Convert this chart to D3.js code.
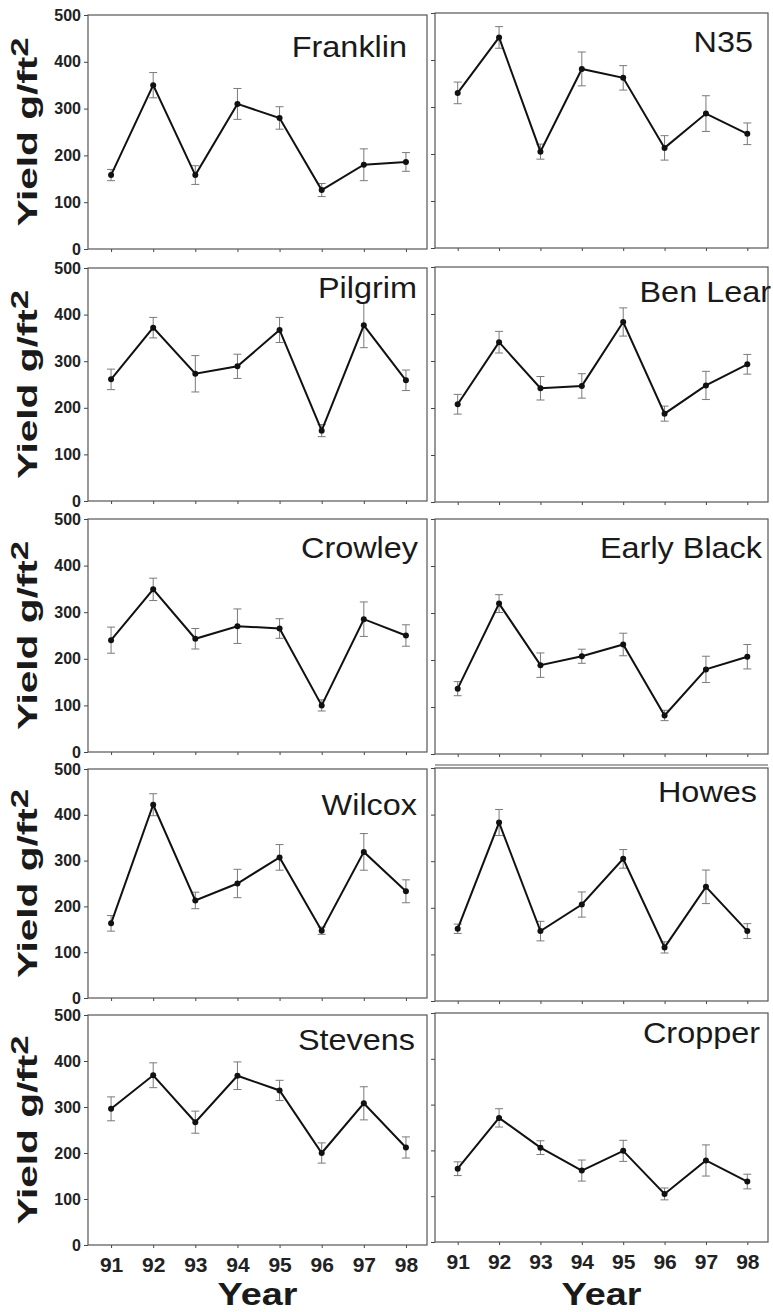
<!DOCTYPE html>
<html>
<head>
<meta charset="utf-8">
<title>Yield by variety, 1991-1998</title>
<script src="https://d3js.org/d3.v7.min.js"></script>
<style>
  body { margin: 0; background: #fff; }
  svg { display: block; font-family: "Liberation Sans", Arial, sans-serif; }
  .frame { fill: none; stroke: #555; stroke-width: 1.2px; }
  .tick line { stroke: #444; }
  .ylab text { font-size: 16px; font-weight: bold; fill: #222; }
  .xlab text { font-size: 21px; font-weight: bold; fill: #222; }
  .err { stroke: #7a7a7a; stroke-width: 1px; }
  .trend { fill: none; stroke: #111; stroke-width: 2px; }
  .dot { fill: #111; }
  .title { font-size: 30px; fill: #1a1a1a; }
  .ytitle { font-size: 28px; font-weight: bold; fill: #1a1a1a; }
  .xtitle { font-size: 31px; font-weight: bold; fill: #1a1a1a; }
</style>
</head>
<body>
<div id="chart"></div>
<script>
// data
var years = ["91", "92", "93", "94", "95", "96", "97", "98"];
var yTicks = [0, 100, 200, 300, 400, 500];
var varieties = ["Franklin", "N35", "Pilgrim", "Ben Lear", "Crowley",
                 "Early Black", "Wilcox", "Howes", "Stevens", "Cropper"];

var franklin    = [158, 350, 158, 310, 280, 126, 180, 186];
var franklinErr = [12, 27, 20, 33, 24, 14, 34, 20];
var n35         = [330, 448, 205, 381, 362, 213, 286, 243];
var n35Err      = [23, 23, 16, 36, 26, 26, 38, 23];
var pilgrim     = [261, 372, 273, 289, 367, 151, 377, 259];
var pilgrimErr  = [22, 22, 39, 26, 27, 13, 48, 22];
var benLear     = [208, 340, 242, 247, 383, 188, 248, 293];
var benLearErr  = [21, 23, 25, 26, 30, 16, 30, 21];
var crowley     = [240, 349, 243, 270, 265, 100, 285, 250];
var crowleyErr  = [28, 24, 22, 37, 21, 12, 37, 23];
var earlyBlack  = [139, 320, 189, 208, 233, 82, 180, 207];
var earlyBlackErr = [15, 19, 26, 15, 24, 11, 28, 26];
var wilcox      = [163, 422, 213, 250, 307, 147, 319, 233];
var wilcoxErr   = [17, 24, 18, 31, 28, 8, 40, 25];
var howes       = [155, 383, 150, 207, 305, 115, 245, 150];
var howesErr    = [10, 28, 21, 27, 20, 12, 36, 16];
var stevens     = [296, 369, 267, 368, 336, 200, 308, 212];
var stevensErr  = [26, 27, 24, 30, 22, 22, 36, 23];
var cropper     = [160, 271, 206, 156, 199, 105, 178, 132];
var cropperErr  = [15, 20, 15, 23, 23, 13, 34, 16];

var means = [franklin, n35, pilgrim, benLear, crowley, earlyBlack, wilcox, howes, stevens, cropper];
var errs  = [franklinErr, n35Err, pilgrimErr, benLearErr, crowleyErr, earlyBlackErr,
             wilcoxErr, howesErr, stevensErr, cropperErr];

// panel layout (pixels)
var W = 773, H = 1312;
var colX = [[88, 427], [435, 768]];
var rowsLeft  = [[15, 249], [268, 501], [519, 752], [769, 998], [1015, 1245]];
var rowsRight = [[13, 248], [267, 502], [519, 754], [768, 1001], [1013, 1242]];
var titleEnd  = [407, 753, 417, 771, 418, 762, 417, 757, 415, 760];
var titleBase = [57, 52, 298, 302, 558, 558, 815, 802, 1050, 1043];

var svg = d3.select("#chart").append("svg")
  .attr("width", W)
  .attr("height", H);

varieties.forEach(function (name, i) {
  var col = i % 2, row = Math.floor(i / 2);
  var r = col === 0 ? rowsLeft[row] : rowsRight[row];
  var x0 = colX[col][0], x1 = colX[col][1];

  var x = d3.scalePoint().domain(years).range([x0 + 2, x1]).padding(0.5);
  var y = d3.scaleLinear().domain([0, 500]).range([r[1], r[0]]);

  var g = svg.append("g");

  // y ticks
  var yAxis = d3.axisLeft(y).tickValues(yTicks).tickSize(4).tickSizeOuter(0).tickPadding(3);
  var ya = g.append("g").attr("class", "ylab")
    .attr("transform", "translate(" + x0 + ",0)")
    .call(yAxis);
  ya.select(".domain").remove();
  if (col === 1) ya.selectAll("text").remove();

  // x ticks
  var xa = g.append("g").attr("class", "xlab")
    .attr("transform", "translate(0," + r[1] + ")")
    .call(d3.axisBottom(x).tickSize(3).tickSizeOuter(0));
  xa.select(".domain").remove();
  if (row < 4) {
    xa.selectAll("text").remove();
  } else {
    xa.selectAll("text").attr("dy", null).attr("y", 27);
  }

  g.append("rect").attr("class", "frame")
    .attr("x", x0).attr("y", r[0])
    .attr("width", x1 - x0).attr("height", r[1] - r[0]);

  var pts = years.map(function (yr, k) {
    return { year: yr, v: means[i][k], e: errs[i][k] };
  });

  // error bars
  var eb = g.selectAll(".eb").data(pts).enter().append("g");
  eb.append("line").attr("class", "err")
    .attr("x1", function (d) { return x(d.year); })
    .attr("x2", function (d) { return x(d.year); })
    .attr("y1", function (d) { return y(d.v - d.e); })
    .attr("y2", function (d) { return y(d.v + d.e); });
  [-1, 1].forEach(function (s) {
    eb.append("line").attr("class", "err")
      .attr("x1", function (d) { return x(d.year) - 4; })
      .attr("x2", function (d) { return x(d.year) + 4; })
      .attr("y1", function (d) { return y(d.v + s * d.e); })
      .attr("y2", function (d) { return y(d.v + s * d.e); });
  });

  var line = d3.line()
    .x(function (d) { return x(d.year); })
    .y(function (d) { return y(d.v); });
  g.append("path").attr("class", "trend").attr("d", line(pts));

  g.selectAll(".dot").data(pts).enter().append("circle")
    .attr("class", "dot")
    .attr("cx", function (d) { return x(d.year); })
    .attr("cy", function (d) { return y(d.v); })
    .attr("r", 3);

  g.append("text").attr("class", "title")
    .attr("text-anchor", "end")
    .attr("transform", "translate(" + titleEnd[i] + "," + titleBase[i] + ") scale(1.08,1)")
    .text(name);

  // y axis title on the left column
  if (col === 0) {
    var cy = (r[0] + r[1]) / 2;
    var t = svg.append("text").attr("class", "ytitle")
      .attr("text-anchor", "middle")
      .attr("transform", "translate(37," + cy + ") rotate(-90) scale(1.45,1)");
    t.append("tspan").text("Yield g/ft");
    t.append("tspan").attr("dy", -9).style("font-size", "24px").text("2");
  }

  if (row === 4) {
    svg.append("text").attr("class", "xtitle")
      .attr("text-anchor", "middle")
      .attr("transform", "translate(" + ((x0 + x1) / 2) + ",1305) scale(1.22,1)")
      .text("Year");
  }
});

// stray double rule above the Howes panel
svg.append("line").attr("class", "frame")
  .attr("x1", colX[1][0]).attr("x2", colX[1][1])
  .attr("y1", rowsRight[3][0] - 3).attr("y2", rowsRight[3][0] - 3);
</script>
</body>
</html>
